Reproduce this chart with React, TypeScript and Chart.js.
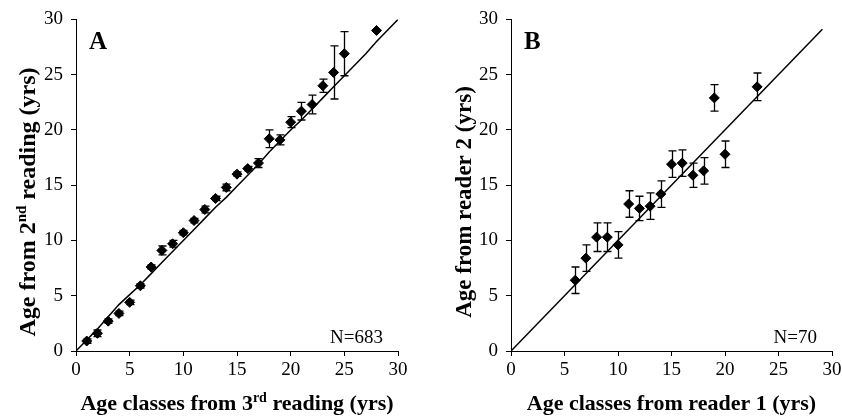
import React, { useEffect, useRef } from 'react';
import { Chart, registerables } from 'chart.js';
Chart.register(...registerables);

const FONT = '"Liberation Serif", "Times New Roman", serif';

// Panel A: age classes from 3rd reading vs mean age from 2nd reading
const ageClassesA = [1, 2, 3, 4, 5, 6, 7, 8, 9, 10, 11, 12, 13, 14, 15, 16, 17, 18, 19, 20, 21, 22, 23, 24, 25, 28];
const meanAgeA = [0.9, 1.6, 2.7, 3.4, 4.4, 5.9, 7.6, 9.1, 9.7, 10.7, 11.8, 12.8, 13.8, 14.8, 16.0, 16.5, 17.0, 19.2, 19.1, 20.7, 21.7, 22.3, 24.0, 25.2, 26.9, 29.0];
const errA = [0.2, 0.3, 0.2, 0.2, 0.2, 0.2, 0.2, 0.4, 0.3, 0.2, 0.2, 0.3, 0.2, 0.3, 0.2, 0.2, 0.4, 0.8, 0.45, 0.5, 0.8, 0.85, 0.6, 2.4, 2.0, 0];
const lineAX = [0, 1, 2, 3, 4, 5, 6, 7, 8, 9, 10, 11, 12, 13, 14, 15, 16, 17, 18, 19, 20, 21, 22, 23, 24, 25, 26, 27, 28, 29, 30];
const lineAY = [0, 1.0, 2.0, 3.1, 4.2, 5.1, 6.0, 7.0, 8.0, 9.0, 10.0, 11.0, 12.0, 13.0, 13.9, 14.9, 15.9, 16.9, 18.0, 19.0, 20.0, 20.9, 21.9, 22.9, 23.9, 24.9, 25.9, 26.9, 28.0, 29.0, 30.0];

// Panel B: age classes from reader 1 vs mean age from reader 2
const ageClassesB = [6, 7, 8, 9, 10, 11, 12, 13, 14, 15, 16, 17, 18, 19, 20, 23];
const meanAgeB = [6.4, 8.4, 10.3, 10.3, 9.6, 13.3, 12.9, 13.1, 14.2, 16.9, 17.0, 15.9, 16.3, 22.9, 17.8, 23.9];
const errB = [1.2, 1.2, 1.3, 1.3, 1.2, 1.2, 1.1, 1.2, 1.2, 1.2, 1.2, 1.1, 1.2, 1.2, 1.2, 1.25];
const lineBX = [0, 29.1];
const lineBY = [0, 29.1];

const axisMin = 0;
const axisMax = 30;
const axisStep = 5;

type Part = { t: string; sup?: boolean };

function drawRich(ctx: CanvasRenderingContext2D, parts: Part[], size: number) {
  const main = `bold ${size}px ${FONT}`;
  const sup = `bold ${Math.round(size * 0.62)}px ${FONT}`;
  const widths = parts.map((p) => {
    ctx.font = p.sup ? sup : main;
    return ctx.measureText(p.t).width;
  });
  const total = widths.reduce((a, b) => a + b, 0);
  let x = -total / 2;
  ctx.textAlign = 'left';
  ctx.textBaseline = 'alphabetic';
  parts.forEach((p, i) => {
    ctx.font = p.sup ? sup : main;
    ctx.fillText(p.t, x, p.sup ? -size * 0.38 : 0);
    x += widths[i];
  });
}

type PanelCfg = {
  xs: number[];
  ys: number[];
  errs: number[];
  lx: number[];
  ly: number[];
  yAxisWidth: number;
  padRight: number;
  letter: string;
  nText: string;
  xTitle: Part[];
  yTitle: Part[];
  yTitleOffset: number;
  yTitleSize: number;
};

function makeChart(canvas: HTMLCanvasElement, cfg: PanelCfg) {
  const annot = {
    id: 'annot',
    afterDatasetsDraw(chart: any) {
      const ctx = chart.ctx as CanvasRenderingContext2D;
      const xs = chart.scales.x;
      const ys = chart.scales.y;
      ctx.save();
      ctx.strokeStyle = '#000';
      ctx.lineWidth = 1.3;
      cfg.xs.forEach((xv, i) => {
        const e = cfg.errs[i];
        if (!e) return;
        const px = Math.round(xs.getPixelForValue(xv)) + 0.5;
        const top = ys.getPixelForValue(cfg.ys[i] + e);
        const bot = ys.getPixelForValue(cfg.ys[i] - e);
        ctx.beginPath();
        ctx.moveTo(px, top);
        ctx.lineTo(px, bot);
        ctx.moveTo(px - 4, top);
        ctx.lineTo(px + 4, top);
        ctx.moveTo(px - 4, bot);
        ctx.lineTo(px + 4, bot);
        ctx.stroke();
      });
      ctx.restore();
    },
    afterDraw(chart: any) {
      const ctx = chart.ctx as CanvasRenderingContext2D;
      const a = chart.chartArea;
      ctx.save();
      ctx.fillStyle = '#000';
      // panel letter
      ctx.font = `bold 25px ${FONT}`;
      ctx.textAlign = 'left';
      ctx.textBaseline = 'alphabetic';
      ctx.fillText(cfg.letter, a.left + 13, a.top + 30);
      // N text
      ctx.font = `19px ${FONT}`;
      ctx.textAlign = 'right';
      ctx.fillText(cfg.nText, a.right - 15, a.bottom - 8);
      // x title
      ctx.save();
      ctx.translate((a.left + a.right) / 2, 410);
      drawRich(ctx, cfg.xTitle, 22);
      ctx.restore();
      // y title
      ctx.save();
      ctx.translate(a.left - cfg.yTitleOffset, 202);
      ctx.rotate(-Math.PI / 2);
      drawRich(ctx, cfg.yTitle, cfg.yTitleSize);
      ctx.restore();
      ctx.restore();
    },
  };

  const scaleCommon = {
    type: 'linear' as const,
    min: axisMin,
    max: axisMax,
    grid: { drawOnChartArea: false, drawTicks: true, tickLength: 5, color: '#000', lineWidth: 1 },
    border: { display: true, color: '#000', width: 1 },
  };

  return new Chart(canvas, {
    type: 'scatter',
    data: {
      datasets: [
        {
          type: 'line',
          data: cfg.lx.map((x, i) => ({ x, y: cfg.ly[i] })),
          borderColor: '#000',
          borderWidth: 1.5,
          pointRadius: 0,
          fill: false,
          tension: 0,
        } as any,
        {
          data: cfg.xs.map((x, i) => ({ x, y: cfg.ys[i] })),
          pointStyle: 'rectRot',
          pointRadius: 5,
          backgroundColor: '#000',
          borderColor: '#000',
          borderWidth: 1,
          showLine: false,
        },
      ],
    },
    options: {
      animation: false,
      responsive: false,
      layout: { padding: { top: 18, right: cfg.padRight, left: 0, bottom: 0 } },
      plugins: { legend: { display: false }, tooltip: { enabled: false } },
      scales: {
        x: {
          ...scaleCommon,
          ticks: { stepSize: axisStep, color: '#000', padding: 3, font: { family: FONT, size: 19 } },
          afterFit: (s: any) => {
            s.height = 67;
          },
        },
        y: {
          ...scaleCommon,
          ticks: { stepSize: axisStep, color: '#000', padding: 8, font: { family: FONT, size: 19 } },
          afterFit: (s: any) => {
            s.width = cfg.yAxisWidth;
          },
        },
      },
    } as any,
    plugins: [annot],
  });
}

export default function App() {
  const refA = useRef<HTMLCanvasElement>(null);
  const refB = useRef<HTMLCanvasElement>(null);

  useEffect(() => {
    const a = makeChart(refA.current!, {
      xs: ageClassesA,
      ys: meanAgeA,
      errs: errA,
      lx: lineAX,
      ly: lineAY,
      yAxisWidth: 76,
      padRight: 430 - 398,
      letter: 'A',
      nText: 'N=683',
      xTitle: [{ t: 'Age classes from 3' }, { t: 'rd', sup: true }, { t: ' reading (yrs)' }],
      yTitle: [{ t: 'Age from 2' }, { t: 'nd', sup: true }, { t: ' reading (yrs)' }],
      yTitleOffset: 41,
      yTitleSize: 24,
    });
    const b = makeChart(refB.current!, {
      xs: ageClassesB,
      ys: meanAgeB,
      errs: errB,
      lx: lineBX,
      ly: lineBY,
      yAxisWidth: 90,
      padRight: 440 - (832 - 421),
      letter: 'B',
      nText: 'N=70',
      xTitle: [{ t: 'Age classes from reader 1 (yrs)' }],
      yTitle: [{ t: 'Age from reader 2 (yrs)' }],
      yTitleOffset: 40,
      yTitleSize: 23,
    });
    return () => {
      a.destroy();
      b.destroy();
    };
  }, []);

  return (
    <div style={{ position: 'absolute', left: 0, top: 0, width: 842, height: 418, overflow: 'hidden', background: '#fff' }}>
      <canvas ref={refA} width={430} height={418} style={{ position: 'absolute', left: 0, top: 0 }} />
      <canvas ref={refB} width={440} height={418} style={{ position: 'absolute', left: 421, top: 0 }} />
    </div>
  );
}
